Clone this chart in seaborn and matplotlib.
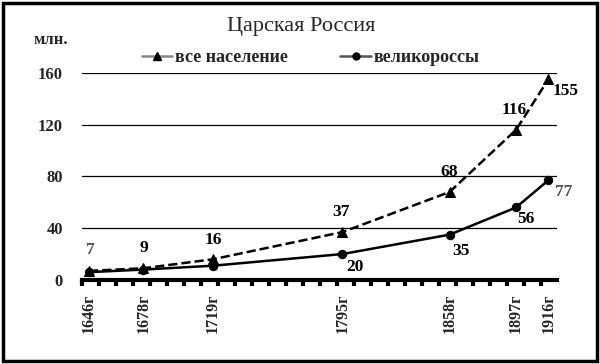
import numpy as np
import pandas as pd
import matplotlib
matplotlib.use('Agg')
import matplotlib.pyplot as plt
from matplotlib.patches import Rectangle
from matplotlib.lines import Line2D
from matplotlib.ticker import MultipleLocator
import seaborn as sns

# data
years = [1646, 1678, 1719, 1795, 1858, 1897, 1916]
year_labels = ['1646г', '1678г', '1719г', '1795г', '1858г', '1897г', '1916г']
total_pop = [7, 9, 16, 37, 68, 116, 155]
russians = [6, 8, 11, 20, 35, 56, 77]
total_text = ['7', '9', '16', '37', '68', '116', '155']
russian_text = ['', '', '', '20', '35', '56', '77']

# label offsets in pixels (style only)
total_offsets = [(1, 21), (0, 20), (0, 19), (-2, 20), (0, 20), (-2, 20), (17, -12)]
russian_offsets = [(0, 0), (0, 0), (0, 0), (12, -13), (11, -16), (10, -12), (15, -12)]

sns.set_style('white')
plt.rcParams['font.family'] = ['Liberation Serif', 'DejaVu Serif']

df = pd.DataFrame({'year': years, 'total': total_pop, 'rus': russians})

fig = plt.figure(figsize=(6.0, 3.64), dpi=100)
ax = fig.add_axes([0.137, 0.231, 0.791, 0.5685])

sns.lineplot(data=df, x='year', y='total', ax=ax, color='black', linestyle='--',
             linewidth=1.8, marker='^', markersize=7, markeredgecolor='black')
sns.lineplot(data=df, x='year', y='rus', ax=ax, color='black', linestyle='-',
             linewidth=1.8, marker='o', markersize=6, markeredgecolor='black')

ax.set_xlim(1642, 1921)
ax.set_ylim(0, 160)
ax.set_yticks([0, 40, 80, 120, 160])
ax.yaxis.grid(True, color='black', linewidth=0.9)
ax.set_axisbelow(True)
ax.set_xlabel('')
ax.set_ylabel('')

for s in ['top', 'right', 'left']:
    ax.spines[s].set_visible(False)
ax.spines['bottom'].set_linewidth(3)
ax.spines['bottom'].set_color('black')

ax.set_xticks(years)
ax.set_xticklabels(year_labels, rotation=90, fontsize=11.5, fontweight='bold')
ax.xaxis.set_minor_locator(MultipleLocator(10, offset=2))
ax.tick_params(axis='x', which='major', length=0, pad=10)
ax.tick_params(axis='x', which='minor', bottom=True, length=4, width=3, color='black')
ax.tick_params(axis='y', length=0, pad=14, labelsize=12)
for t in ax.get_yticklabels():
    t.set_fontweight('bold')

for x, y, txt, (dx, dy) in zip(years, total_pop, total_text, total_offsets):
    if txt:
        ax.annotate(txt, (x, y), xytext=(dx, dy), textcoords='offset pixels',
                    ha='center', va='center', fontsize=12.5, fontweight='bold',
                    color='#555555' if txt == '7' else 'black')
for x, y, txt, (dx, dy) in zip(years, russians, russian_text, russian_offsets):
    if txt:
        ax.annotate(txt, (x, y), xytext=(dx, dy), textcoords='offset pixels',
                    ha='center', va='center', fontsize=12.5, fontweight='bold',
                    color='#555555' if txt == '77' else 'black')

handles = [
    Line2D([], [], color='#888888', linewidth=1.8, marker='^', markersize=6,
           markerfacecolor='black', markeredgecolor='black'),
    Line2D([], [], color='#555555', linewidth=1.8, marker='o', markersize=5,
           markerfacecolor='black', markeredgecolor='black'),
]
fig.legend(handles, ['все население', 'великороссы'], loc='center',
           bbox_to_anchor=(0.518, 0.841), ncol=2, frameon=False,
           handlelength=1.7, handletextpad=0.15, columnspacing=2.9,
           prop={'weight': 'bold', 'size': 13})

fig.text(0.502, 0.926, 'Царская Россия', ha='center', va='center', fontsize=16)
fig.text(0.085, 0.89, 'млн.', ha='center', va='center', fontsize=12, fontweight='bold')

fig.patches.append(Rectangle((0.005, 0.008), 0.99, 0.984, transform=fig.transFigure,
                             fill=False, edgecolor='black', linewidth=2.5))

fig.savefig('out.png', dpi=100)
